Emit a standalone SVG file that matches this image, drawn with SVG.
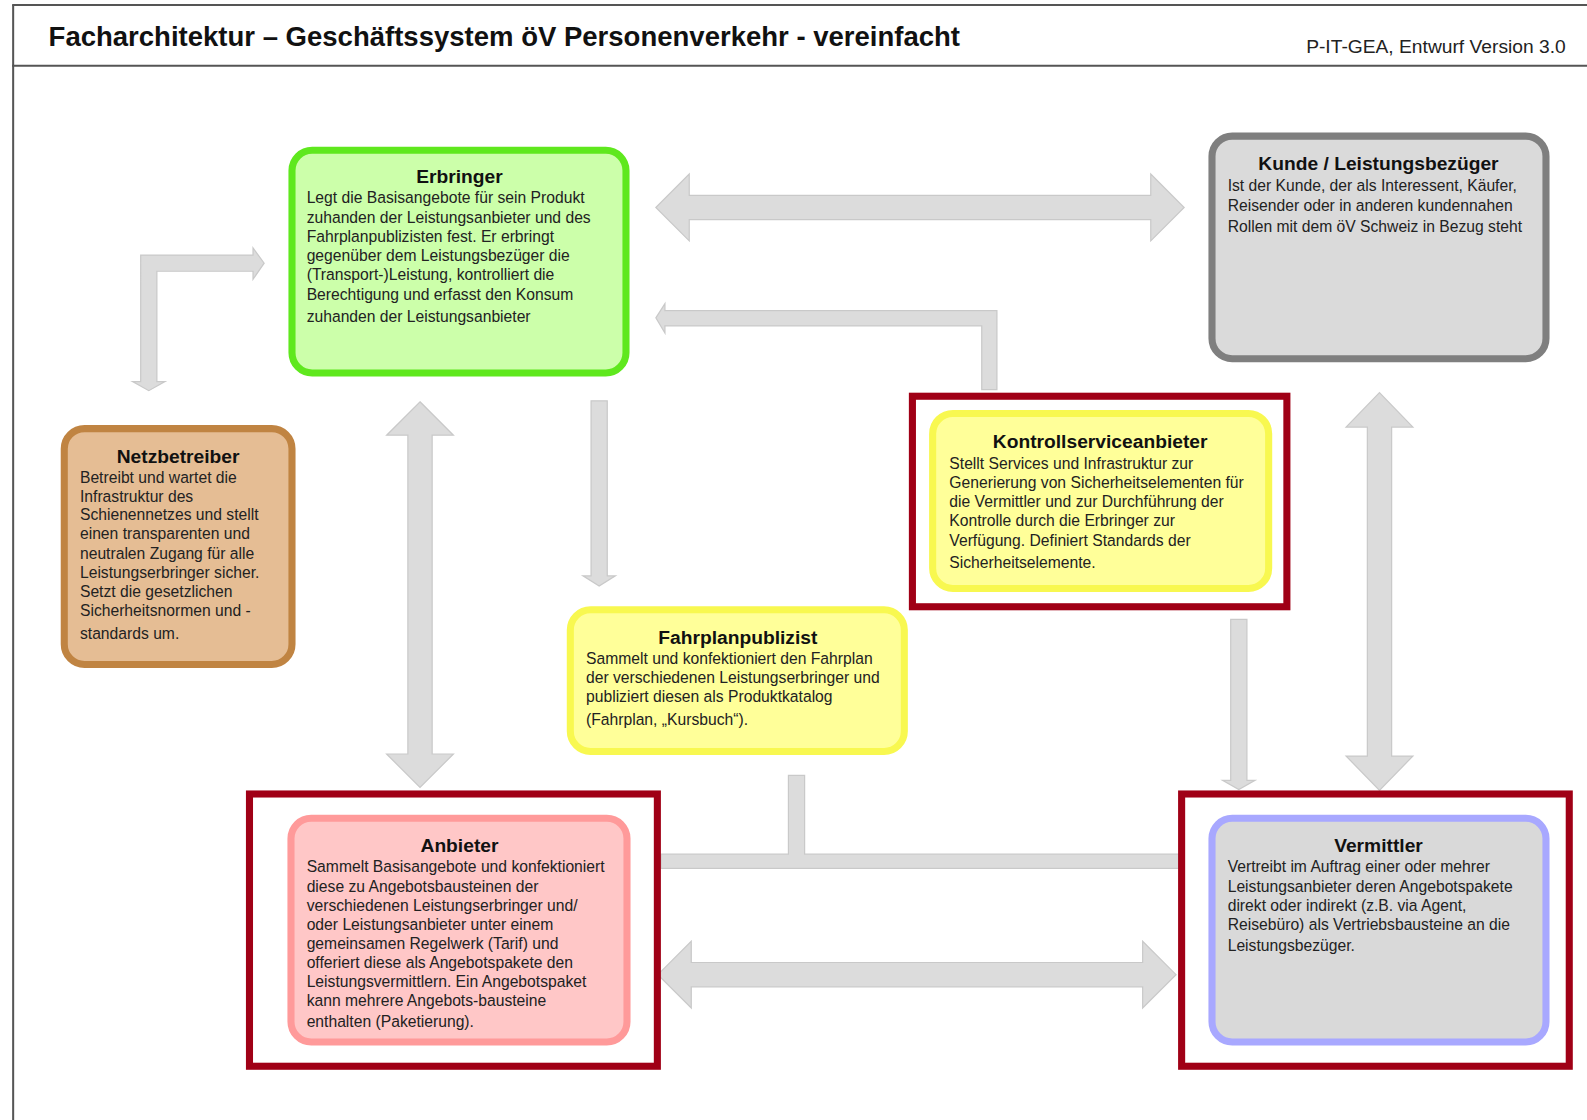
<svg xmlns="http://www.w3.org/2000/svg" width="1587" height="1120" viewBox="0 0 1587 1120">
<style>
.frame{stroke:#555;stroke-width:2;fill:none}
.hdr{font-family:"Liberation Sans",Arial,sans-serif;font-weight:bold;font-size:27.2px;fill:#111}
.sub{font-family:"Liberation Sans",Arial,sans-serif;font-size:19px;fill:#222}
.t{font-family:"Liberation Sans",Arial,sans-serif;font-weight:bold;font-size:19px;fill:#111;text-anchor:middle}
.b{font-family:"Liberation Sans",Arial,sans-serif;font-size:15.5px;fill:#222}
.arr{fill:#DCDCDC;stroke:#C9C9C9;stroke-width:1.2;stroke-linejoin:miter}
.red{fill:none;stroke:#A00016;stroke-width:7}
</style>
<rect x="0" y="0" width="1587" height="1120" fill="#fff"/>
<g id="diagram" transform="scale(1.0121)">
<g id="page">
<line class="frame" x1="12" y1="5" x2="1587" y2="5"/>
<line class="frame" x1="13" y1="5" x2="13" y2="1110"/>
<line class="frame" x1="12" y1="65" x2="1587" y2="65"/>
<text class="hdr" x="48" y="45">Facharchitektur – Geschäftssystem öV Personenverkehr - vereinfacht</text>
<text class="sub" x="1547" y="52" text-anchor="end">P-IT-GEA, Entwurf Version 3.0</text>
</g>
<g id="connectors">
<path class="arr" d="M648,205 L681,172 L681,193 L1137,193 L1137,172 L1170,205 L1137,238 L1137,217 L681,217 L681,238 Z"/>
<path class="arr" d="M139,252 L250,252 L250,245 L261,260 L250,276 L250,268 L155,268 L155,377 L163,377 L147,386 L131,377 L139,377 Z"/>
<path class="arr" d="M648,314 L657,300 L657,307 L985,307 L985,385 L970,385 L970,322 L657,322 L657,329 Z"/>
<path class="arr" d="M415,397 L448,430 L427,430 L427,745 L448,745 L415,778 L382,745 L403,745 L403,430 L382,430 Z"/>
<path class="arr" d="M584,396 L600,396 L600,569 L608,569 L592,579 L576,569 L584,569 Z"/>
<path class="arr" d="M779,766 L795,766 L795,844 L1165,844 L1165,858 L653,858 L653,844 L779,844 Z"/>
<path class="arr" d="M1216,612 L1232,612 L1232,771 L1240,771 L1224,780 L1208,771 L1216,771 Z"/>
<path class="arr" d="M1363,388 L1396,422 L1375,422 L1375,747 L1396,747 L1363,781 L1330,747 L1351,747 L1351,422 L1330,422 Z"/>
<path class="arr" d="M650,963 L683,930 L683,951 L1129,951 L1129,930 L1162,963 L1129,996 L1129,975 L683,975 L683,996 Z"/>
</g>
<g id="erbringer">
<rect x="288.5" y="148.5" width="330" height="220" rx="20" fill="#CCFFAA" stroke="#5FE81E" stroke-width="7"/>
<text class="t" x="454" y="181">Erbringer</text>
<text class="b" x="303" y="201">Legt die Basisangebote für sein Produkt</text>
<text class="b" x="303" y="220">zuhanden der Leistungsanbieter und des</text>
<text class="b" x="303" y="239">Fahrplanpublizisten fest. Er erbringt</text>
<text class="b" x="303" y="258">gegenüber dem Leistungsbezüger die</text>
<text class="b" x="303" y="277">(Transport-)Leistung, kontrolliert die</text>
<text class="b" x="303" y="296">Berechtigung und erfasst den Konsum</text>
<text class="b" x="303" y="318">zuhanden der Leistungsanbieter</text>
</g>
<g id="kunde">
<rect x="1197.5" y="134.5" width="330" height="220" rx="20" fill="#DADADA" stroke="#7F7F7F" stroke-width="7"/>
<text class="t" x="1362" y="168">Kunde / Leistungsbezüger</text>
<text class="b" x="1213" y="189">Ist der Kunde, der als Interessent, Käufer,</text>
<text class="b" x="1213" y="208">Reisender oder in anderen kundennahen</text>
<text class="b" x="1213" y="229">Rollen mit dem öV Schweiz in Bezug steht</text>
</g>
<g id="netzbetreiber">
<rect x="63.5" y="423.5" width="225" height="233" rx="20" fill="#E5BD94" stroke="#C08442" stroke-width="7"/>
<text class="t" x="176" y="457">Netzbetreiber</text>
<text class="b" x="79" y="477">Betreibt und wartet die</text>
<text class="b" x="79" y="496">Infrastruktur des</text>
<text class="b" x="79" y="514">Schienennetzes und stellt</text>
<text class="b" x="79" y="533">einen transparenten und</text>
<text class="b" x="79" y="552">neutralen Zugang für alle</text>
<text class="b" x="79" y="571">Leistungserbringer sicher.</text>
<text class="b" x="79" y="590">Setzt die gesetzlichen</text>
<text class="b" x="79" y="609">Sicherheitsnormen und -</text>
<text class="b" x="79" y="631">standards um.</text>
</g>
<g id="kontrollserviceanbieter">
<rect class="red" x="901.5" y="391.5" width="370" height="208"/>
<rect x="921.5" y="408.5" width="332" height="173" rx="20" fill="#FFFF99" stroke="#F8F850" stroke-width="7"/>
<text class="t" x="1087" y="443">Kontrollserviceanbieter</text>
<text class="b" x="938" y="463">Stellt Services und Infrastruktur zur</text>
<text class="b" x="938" y="482">Generierung von Sicherheitselementen für</text>
<text class="b" x="938" y="501">die Vermittler und zur Durchführung der</text>
<text class="b" x="938" y="520">Kontrolle durch die Erbringer zur</text>
<text class="b" x="938" y="539">Verfügung. Definiert Standards der</text>
<text class="b" x="938" y="561">Sicherheitselemente.</text>
</g>
<g id="fahrplanpublizist">
<rect x="563.5" y="602.5" width="330" height="140" rx="20" fill="#FFFF99" stroke="#F8F850" stroke-width="7"/>
<text class="t" x="729" y="636">Fahrplanpublizist</text>
<text class="b" x="579" y="656">Sammelt und konfektioniert den Fahrplan</text>
<text class="b" x="579" y="675">der verschiedenen Leistungserbringer und</text>
<text class="b" x="579" y="694">publiziert diesen als Produktkatalog</text>
<text class="b" x="579" y="716">(Fahrplan, „Kursbuch“).</text>
</g>
<g id="anbieter">
<rect class="red" x="246.5" y="784.5" width="403" height="269"/>
<rect x="287.5" y="808.5" width="332" height="221" rx="20" fill="#FFC7C7" stroke="#FF9A9A" stroke-width="7"/>
<text class="t" x="454" y="842">Anbieter</text>
<text class="b" x="303" y="862">Sammelt Basisangebote und konfektioniert</text>
<text class="b" x="303" y="881">diese zu Angebotsbausteinen der</text>
<text class="b" x="303" y="900">verschiedenen Leistungserbringer und/</text>
<text class="b" x="303" y="919">oder Leistungsanbieter unter einem</text>
<text class="b" x="303" y="938">gemeinsamen Regelwerk (Tarif) und</text>
<text class="b" x="303" y="956">offeriert diese als Angebotspakete den</text>
<text class="b" x="303" y="975">Leistungsvermittlern. Ein Angebotspaket</text>
<text class="b" x="303" y="994">kann mehrere Angebots-bausteine</text>
<text class="b" x="303" y="1015">enthalten (Paketierung).</text>
</g>
<g id="vermittler">
<rect class="red" x="1167.5" y="784.5" width="383" height="269"/>
<rect x="1197.5" y="808.5" width="330" height="221" rx="20" fill="#D9D9D9" stroke="#A8A8FF" stroke-width="7"/>
<text class="t" x="1362" y="842">Vermittler</text>
<text class="b" x="1213" y="862">Vertreibt im Auftrag einer oder mehrer</text>
<text class="b" x="1213" y="881">Leistungsanbieter deren Angebotspakete</text>
<text class="b" x="1213" y="900">direkt oder indirekt (z.B. via Agent,</text>
<text class="b" x="1213" y="919">Reisebüro) als Vertriebsbausteine an die</text>
<text class="b" x="1213" y="940">Leistungsbezüger.</text>
</g>
</g>
</svg>
